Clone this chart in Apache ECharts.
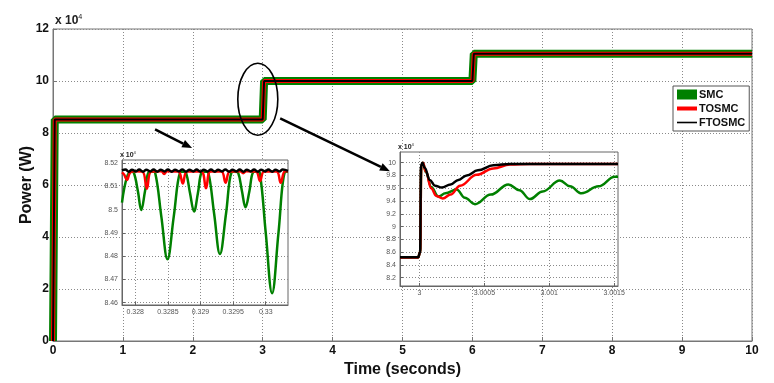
<!DOCTYPE html>
<html>
<head>
<meta charset="utf-8">
<script src="https://cdn.jsdelivr.net/npm/echarts@6/dist/echarts.min.js"></script>
<style>
  html, body { margin: 0; padding: 0; background: #fff; }
  #chart { width: 774px; height: 383px; }
</style>
</head>
<body>
<div id="chart"></div>
<script>
// power values are in units of 1e4 W (the plot shows "x 10^4")
const mainTime  = [0, 0.015, 0.025, 3, 3.02, 6, 6.02, 10];
const mainPower = [0, 0, 8.52, 8.52, 10.0, 10.0, 11.05, 11.05];

const seriesNames = ["SMC", "TOSMC", "FTOSMC"];
const seriesColors = ["#008000", "#ff0000", "#000000"];

const xTicks = [0, 1, 2, 3, 4, 5, 6, 7, 8, 9, 10];
const yTicks = [0, 2, 4, 6, 8, 10, 12];

// zoom 1: ripple around t = 0.329 s
const zoom1Ticks = [0.328, 0.3285, 0.329, 0.3295, 0.33];
const zoom1YTicks = [8.46, 8.47, 8.48, 8.49, 8.5, 8.51, 8.52];
const zoom1Smc = [
  [0.327797, 8.503], [0.327873, 8.514], [0.32794, 8.5163], [0.327975, 8.516],
  [0.32804, 8.508], [0.328092, 8.4998], [0.32815, 8.508], [0.328204, 8.516],
  [0.328255, 8.5163], [0.328305, 8.5158], [0.3284, 8.497], [0.328494, 8.4787],
  [0.32859, 8.497], [0.328687, 8.516], [0.328735, 8.5163], [0.328779, 8.5158],
  [0.32884, 8.507], [0.328901, 8.4992], [0.32896, 8.507], [0.329018, 8.516],
  [0.32907, 8.5163], [0.32912, 8.5158], [0.32921, 8.498], [0.329298, 8.4809],
  [0.32939, 8.498], [0.329476, 8.516], [0.32953, 8.5163], [0.329578, 8.5158],
  [0.329635, 8.508], [0.32969, 8.501], [0.32975, 8.508], [0.329806, 8.516],
  [0.32986, 8.5163], [0.329908, 8.5158], [0.33, 8.49], [0.330097, 8.4641],
  [0.330195, 8.49], [0.33029, 8.516], [0.330341, 8.5163]
];
const zoom1Tosmc = [
  [0.327797, 8.516], [0.32783, 8.515], [0.327873, 8.5127], [0.32792, 8.5158],
  [0.32799, 8.5165], [0.32811, 8.5163], [0.328178, 8.509], [0.328245, 8.5163],
  [0.3284, 8.5165], [0.328443, 8.5153], [0.32849, 8.5165], [0.32866, 8.5164],
  [0.328728, 8.5112], [0.328795, 8.5164], [0.32901, 8.5164], [0.329084, 8.5092],
  [0.329155, 8.5164], [0.32932, 8.5164], [0.329384, 8.5115], [0.32945, 8.5164],
  [0.32961, 8.5165], [0.329654, 8.5156], [0.3297, 8.5165], [0.32985, 8.5164],
  [0.329913, 8.5123], [0.329975, 8.5164], [0.330165, 8.5164], [0.330229, 8.5115],
  [0.33029, 8.5164], [0.330341, 8.5165]
];
const zoom1Ftosmc = [
  [0.327797, 8.5168], [0.32785, 8.5172], [0.3279, 8.5163], [0.32795, 8.5171],
  [0.32801, 8.5164], [0.32806, 8.5172], [0.32812, 8.5163], [0.32817, 8.5171],
  [0.32823, 8.5164], [0.32828, 8.5172], [0.32834, 8.5163], [0.32839, 8.5171],
  [0.32845, 8.5164], [0.3285, 8.5172], [0.32856, 8.5163], [0.32861, 8.5171],
  [0.32867, 8.5164], [0.32872, 8.5172], [0.32878, 8.5163], [0.32883, 8.5171],
  [0.32889, 8.5164], [0.32894, 8.5172], [0.329, 8.5163], [0.32905, 8.5171],
  [0.32911, 8.5164], [0.32916, 8.5172], [0.32922, 8.5163], [0.32927, 8.5171],
  [0.32933, 8.5164], [0.32938, 8.5172], [0.32944, 8.5163], [0.32949, 8.5171],
  [0.32955, 8.5164], [0.3296, 8.5172], [0.32966, 8.5163], [0.32971, 8.5171],
  [0.32977, 8.5164], [0.32982, 8.5172], [0.32988, 8.5163], [0.32993, 8.5171],
  [0.32999, 8.5164], [0.33004, 8.5172], [0.3301, 8.5163], [0.33015, 8.5171],
  [0.33021, 8.5164], [0.33026, 8.5172], [0.330341, 8.5166]
];

// zoom 2: step at t = 3 s
const zoom2Ticks = [3, 3.0005, 3.001, 3.0015];
const zoom2YTicks = [8.2, 8.4, 8.6, 8.8, 9, 9.2, 9.4, 9.6, 9.8, 10];
const zoom2Smc = [
  [2.99985, 8.52], [2.99999, 8.52], [3.000005, 8.6], [3.000014, 9.95],
  [3.000026, 10.0], [3.00005, 9.85], [3.00009, 9.62], [3.000146, 9.47],
  [3.0002, 9.52], [3.000287, 9.58], [3.00035, 9.45], [3.000428, 9.35],
  [3.00055, 9.5], [3.000685, 9.66], [3.00077, 9.57], [3.000851, 9.43],
  [3.00095, 9.55], [3.001082, 9.72], [3.00116, 9.63], [3.001249, 9.52],
  [3.00138, 9.63], [3.001505, 9.78], [3.00153, 9.78]
];
const zoom2Tosmc = [
  [2.99985, 8.515], [2.99999, 8.515], [3.000005, 8.6], [3.000014, 9.95],
  [3.000026, 10.0], [3.00005, 9.86], [3.00009, 9.6], [3.00013, 9.48],
  [3.00018, 9.44], [3.00024, 9.5], [3.000313, 9.64], [3.000441, 9.81],
  [3.000569, 9.91], [3.000697, 9.97], [3.00085, 9.98], [3.00153, 9.98]
];
const zoom2Ftosmc = [
  [2.99985, 8.52], [2.99999, 8.52], [3.000005, 8.6], [3.000012, 9.95],
  [3.000022, 10.0], [3.00004, 9.92], [3.00008, 9.73], [3.00012, 9.64],
  [3.000172, 9.61], [3.00024, 9.66], [3.0003, 9.73], [3.000364, 9.8],
  [3.00045, 9.88], [3.000569, 9.96], [3.0007, 9.98], [3.00153, 9.98]
];

const FONT = "'Liberation Sans', Arial, sans-serif";
const boldText = { fontFamily: FONT, fontWeight: "bold", color: "#111" };
const gridLine = { show: true, lineStyle: { color: "#8a8a8a", type: [1, 2], width: 1 } };
const smallLabel = { fontFamily: FONT, fontSize: 7, color: "#555" };

const chart = echarts.init(document.getElementById("chart"));

function insetAxis(gridIndex, min, max, ticks, pos) {
  return {
    gridIndex,
    type: "value",
    position: pos,
    min,
    max,
    z: 6,
    axisLine: { show: true, onZero: false, lineStyle: { color: "#666" } },
    axisTick: { show: true, inside: true, length: 3, customValues: ticks, lineStyle: { color: "#666" } },
    axisLabel: { ...smallLabel, margin: 4, customValues: ticks, formatter: (v) => String(+v.toFixed(5)) },
    splitLine: gridLine,
  };
}

const legendIcons = [
  "path://M0,0L20,0L20,10L0,10Z",
  "path://M0,0M20,10M0,3L20,3L20,7L0,7Z",
  "path://M0,0M20,10M0,4.2L20,4.2L20,5.8L0,5.8Z",
];

const mainWidths = [8, 4, 2];
const zoom1Data = [zoom1Smc, zoom1Tosmc, zoom1Ftosmc];
const zoom2Data = [zoom2Smc, zoom2Tosmc, zoom2Ftosmc];

const series = [];
seriesNames.forEach((name, i) => {
  series.push({
    name,
    type: "line",
    xAxisIndex: 0,
    yAxisIndex: 0,
    data: mainTime.map((t, k) => [t, mainPower[k]]),
    showSymbol: false,
    lineStyle: { color: seriesColors[i], width: mainWidths[i] },
    itemStyle: { color: seriesColors[i] },
    z: 2 + i * 0.1,
  });
});
seriesNames.forEach((name, i) => {
  series.push({
    name,
    type: "line",
    xAxisIndex: 1,
    yAxisIndex: 1,
    data: zoom1Data[i],
    smooth: 0.4,
    showSymbol: false,
    clip: true,
    lineStyle: { color: seriesColors[i], width: 2.5 },
    itemStyle: { color: seriesColors[i] },
    z: 7 + i * 0.1,
  });
  series.push({
    name,
    type: "line",
    xAxisIndex: 2,
    yAxisIndex: 2,
    data: zoom2Data[i],
    smooth: 0.4,
    smoothMonotone: "x",
    showSymbol: false,
    clip: true,
    lineStyle: { color: seriesColors[i], width: 2.5 },
    itemStyle: { color: seriesColors[i] },
    z: 7 + i * 0.1,
  });
});

chart.setOption({
  backgroundColor: "#fff",
  animation: false,
  grid: [
    { left: 53, top: 29, width: 699, height: 314, show: true, borderColor: "#777", backgroundColor: "#fff" },
    { left: 122, top: 160, width: 166, height: 145, show: true, z: 5, borderColor: "#666", backgroundColor: "#fff" },
    { left: 400, top: 152, width: 218, height: 134, show: true, z: 5, borderColor: "#666", backgroundColor: "#fff" },
  ],
  legend: {
    orient: "vertical",
    left: 673,
    top: 86,
    z: 10,
    padding: [3, 4, 3, 4],
    itemGap: 3,
    itemWidth: 20,
    itemHeight: 10,
    borderColor: "#555",
    borderWidth: 1,
    backgroundColor: "#fff",
    selectedMode: false,
    textStyle: { ...boldText, fontSize: 11, padding: [0, 0, 0, -3] },
    data: seriesNames.map((n, i) => ({ name: n, icon: legendIcons[i] })),
  },
  xAxis: [
    {
      gridIndex: 0,
      type: "value",
      min: 0,
      max: 10,
      interval: 1,
      name: "Time (seconds)",
      nameLocation: "middle",
      nameGap: 21,
      nameMoveOverlap: false,
      nameTextStyle: { ...boldText, fontSize: 16 },
      axisLine: { show: true, onZero: false, lineStyle: { color: "#777" } },
      axisTick: { show: true, inside: true, length: 4, lineStyle: { color: "#777" } },
      axisLabel: { ...boldText, fontSize: 12, margin: 4, customValues: xTicks },
      splitLine: gridLine,
    },
    insetAxis(1, 0.327797, 0.330341, zoom1Ticks, "bottom"),
    insetAxis(2, 2.99985, 3.00153, zoom2Ticks, "bottom"),
  ],
  yAxis: [
    {
      gridIndex: 0,
      type: "value",
      min: 0,
      max: 12,
      interval: 2,
      name: "Power (W)",
      nameLocation: "middle",
      nameGap: 18,
      nameMoveOverlap: false,
      nameRotate: 90,
      nameTextStyle: { ...boldText, fontSize: 16 },
      axisLine: { show: true, onZero: false, lineStyle: { color: "#777" } },
      axisTick: { show: true, inside: true, length: 4, lineStyle: { color: "#777" } },
      axisLabel: { ...boldText, fontSize: 12, margin: 4, customValues: yTicks },
      splitLine: gridLine,
    },
    insetAxis(1, 8.459, 8.5213, zoom1YTicks, "left"),
    insetAxis(2, 8.07, 10.167, zoom2YTicks, "left"),
  ],
  series,
});

// annotations: ellipse around the step, arrows to the zoomed views, x 10^4 markers
function px(p) {
  return chart.convertToPixel({ gridIndex: 0 }, p);
}
function arrow(a, b) {
  const ang = Math.atan2(b[1] - a[1], b[0] - a[0]);
  const len = 10, half = 4;
  const base = [b[0] - len * Math.cos(ang), b[1] - len * Math.sin(ang)];
  const nx = -Math.sin(ang) * half, ny = Math.cos(ang) * half;
  return [
    { type: "line", z: 20, shape: { x1: a[0], y1: a[1], x2: base[0], y2: base[1] }, style: { stroke: "#000", lineWidth: 2.5 } },
    { type: "polygon", z: 20, shape: { points: [b, [base[0] + nx, base[1] + ny], [base[0] - nx, base[1] - ny]] }, style: { fill: "#000" } },
  ];
}
const c = px([2.93, 9.3]);
const expText = (x, y, size) => ({
  type: "text",
  z: 20,
  x,
  y,
  style: {
    text: "x 10{s|4}",
    fontFamily: FONT,
    fontSize: size,
    fontWeight: "bold",
    fill: "#222",
    rich: { s: { fontSize: size * 0.6, verticalAlign: "top", fontFamily: FONT, fill: "#222", padding: [0, 0, size * 0.5, 0] } },
  },
});
chart.setOption({
  graphic: [
    { type: "ellipse", z: 20, shape: { cx: c[0], cy: c[1], rx: 20, ry: 36 }, style: { fill: "none", stroke: "#000", lineWidth: 1.6 } },
    ...arrow(px([1.46, 8.14]), px([1.99, 7.42])),
    ...arrow(px([3.25, 8.56]), px([4.82, 6.53])),
    expText(55, 14, 12),
    expText(120, 151, 7),
    expText(398, 143, 7),
  ],
});
</script>
</body>
</html>
